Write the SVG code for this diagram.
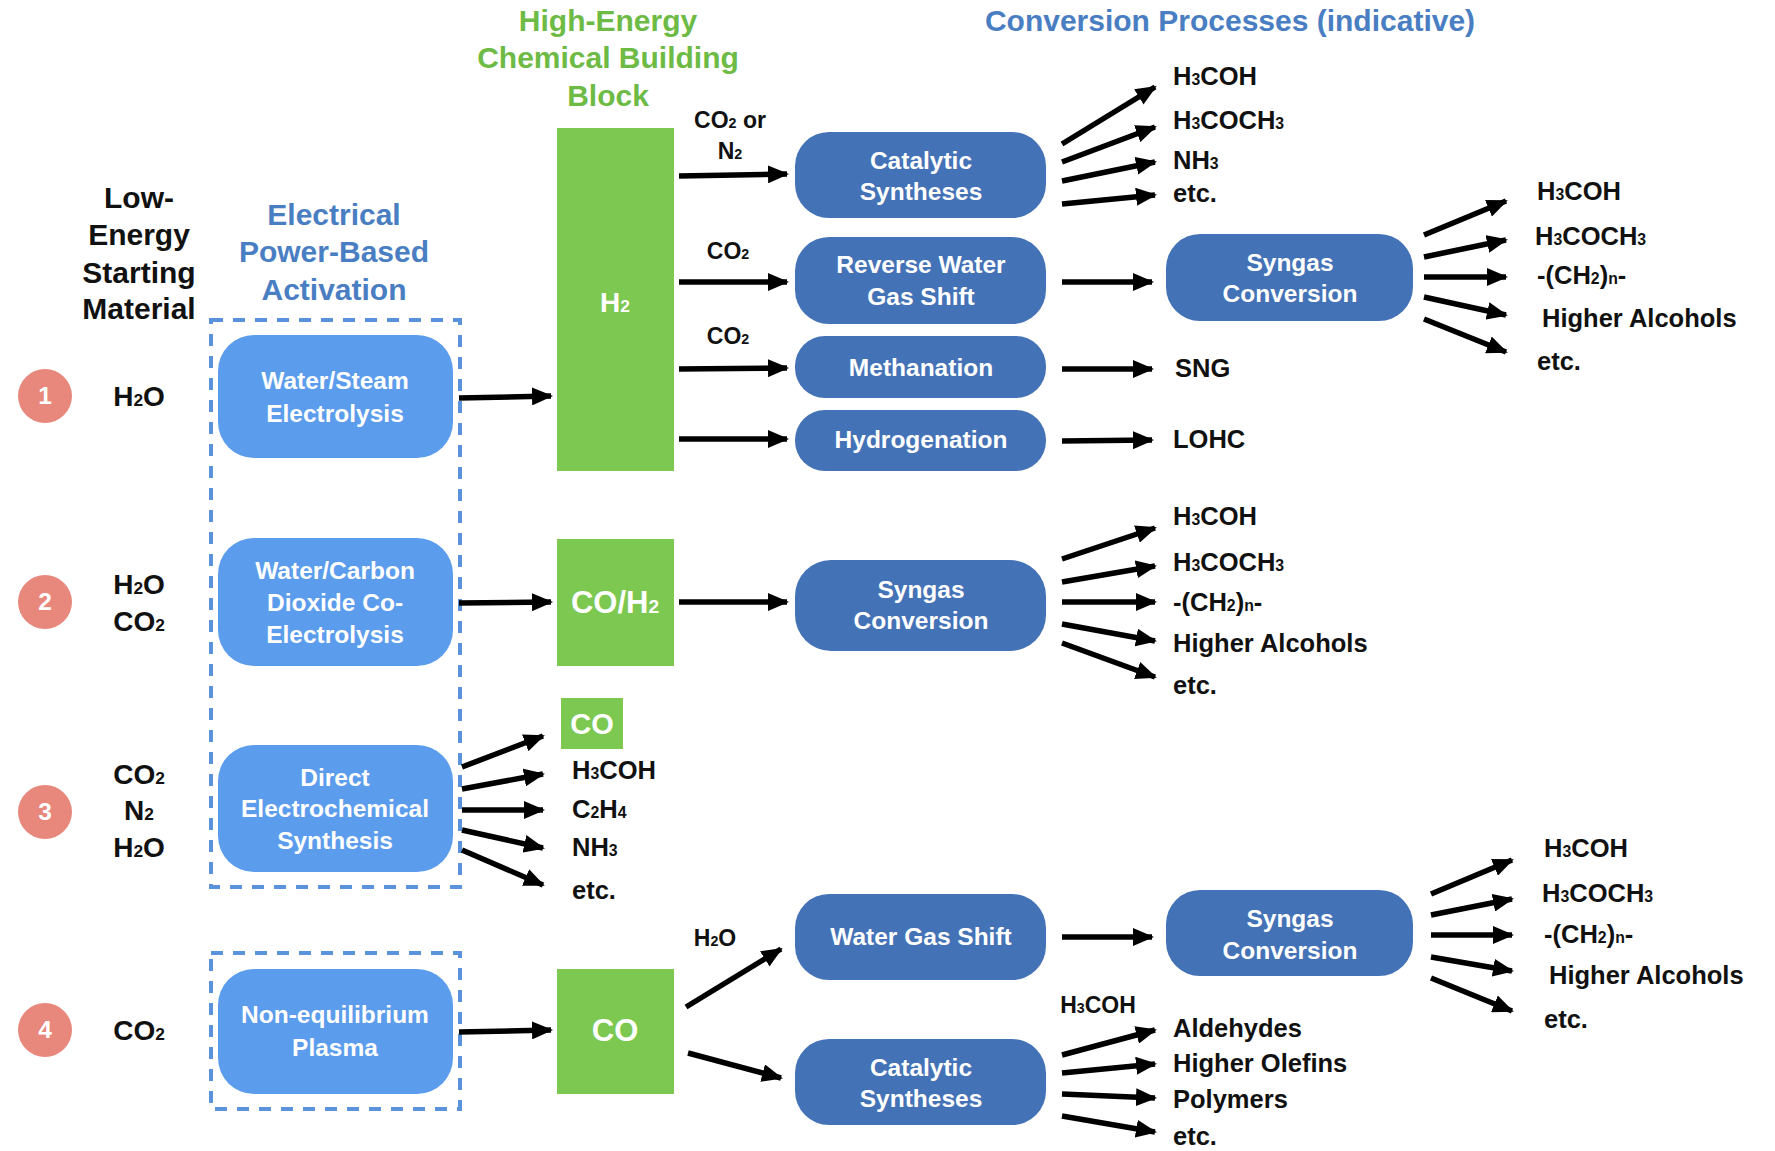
<svg xmlns="http://www.w3.org/2000/svg" width="1775" height="1151" viewBox="0 0 1775 1151">
<defs>
<marker id="ah" markerUnits="userSpaceOnUse" markerWidth="22" markerHeight="18" refX="19" refY="9" orient="auto">
<path d="M0,0 L21,9 L0,18 z" fill="#000"/>
</marker>
<style>
text{font-family:"Liberation Sans",Arial,sans-serif;font-weight:bold}
.hd{font-size:30px}
.green{fill:#6dbb45}
.blueT{fill:#4a7ec2}
.blk{fill:#111}
.mid{text-anchor:middle}
.wt{fill:#fff;font-size:24.5px;text-anchor:middle}
.lb{fill:#111;font-size:23px}
.pr{fill:#111;font-size:25.5px}
.s{font-size:0.62em}
.ln{fill:#5b9cec}
.dk{fill:#4472b6}
.gr{fill:#7dc850}
.dash{fill:none;stroke:#5a93dc;stroke-width:4;stroke-dasharray:12 10}
.num{fill:#e8877c}
.conn line{stroke:#000;stroke-width:5.5;marker-end:url(#ah)}
</style>
</defs>
<rect width="1775" height="1151" fill="#fff"/>

<g id="headers">
<text class="hd green mid" x="608" y="31">High-Energy</text>
<text class="hd green mid" x="608" y="68">Chemical Building</text>
<text class="hd green mid" x="608" y="106">Block</text>
<text class="hd blueT mid" x="1230" y="31">Conversion Processes (indicative)</text>
<text class="hd blk mid" x="139" y="208">Low-</text>
<text class="hd blk mid" x="139" y="245">Energy</text>
<text class="hd blk mid" x="139" y="283">Starting</text>
<text class="hd blk mid" x="139" y="319">Material</text>
<text class="hd blueT mid" x="334" y="225">Electrical</text>
<text class="hd blueT mid" x="334" y="262">Power-Based</text>
<text class="hd blueT mid" x="334" y="300">Activation</text>
</g>

<g id="rows">
<circle class="num" cx="45" cy="396" r="27"/><text class="wt" x="45" y="404">1</text>
<circle class="num" cx="45" cy="602" r="27"/><text class="wt" x="45" y="610">2</text>
<circle class="num" cx="45" cy="812" r="27"/><text class="wt" x="45" y="820">3</text>
<circle class="num" cx="45" cy="1030" r="27"/><text class="wt" x="45" y="1038">4</text>
<g style="font-size:28px" class="blk">
<text class="mid" x="139" y="406">H<tspan class="s">2</tspan>O</text>
<text class="mid" x="139" y="594">H<tspan class="s">2</tspan>O</text>
<text class="mid" x="139" y="631">CO<tspan class="s">2</tspan></text>
<text class="mid" x="139" y="784">CO<tspan class="s">2</tspan></text>
<text class="mid" x="139" y="820">N<tspan class="s">2</tspan></text>
<text class="mid" x="139" y="857">H<tspan class="s">2</tspan>O</text>
<text class="mid" x="139" y="1040">CO<tspan class="s">2</tspan></text>
</g>
</g>

<g id="activation-box-1"><rect class="dash" x="211" y="320" width="249" height="567"/></g>
<g id="activation-box-2"><rect class="dash" x="211" y="953" width="249" height="156"/></g>

<g id="n-electrolysis"><rect class="ln" x="218" y="335" width="235" height="123" rx="36"/>
<text class="wt" x="335" y="389">Water/Steam</text><text class="wt" x="335" y="422">Electrolysis</text></g>
<g id="n-coelectrolysis"><rect class="ln" x="218" y="538" width="235" height="128" rx="36"/>
<text class="wt" x="335" y="579">Water/Carbon</text><text class="wt" x="335" y="611">Dioxide Co-</text><text class="wt" x="335" y="643">Electrolysis</text></g>
<g id="n-direct"><rect class="ln" x="218" y="745" width="235" height="127" rx="36"/>
<text class="wt" x="335" y="786">Direct</text><text class="wt" x="335" y="817">Electrochemical</text><text class="wt" x="335" y="849">Synthesis</text></g>
<g id="n-plasma"><rect class="ln" x="218" y="969" width="235" height="125" rx="36"/>
<text class="wt" x="335" y="1023">Non-equilibrium</text><text class="wt" x="335" y="1056">Plasma</text></g>

<g id="b-h2"><rect class="gr" x="557" y="128" width="117" height="343"/>
<text class="wt" style="font-size:28px" x="615" y="312">H<tspan class="s">2</tspan></text></g>
<g id="b-coh2"><rect class="gr" x="557" y="539" width="117" height="127"/>
<text class="wt" style="font-size:31px" x="615" y="613">CO/H<tspan class="s">2</tspan></text></g>
<g id="b-co-small"><rect class="gr" x="561" y="698" width="62" height="51"/>
<text class="wt" style="font-size:29px" x="592" y="734">CO</text></g>
<g id="b-co"><rect class="gr" x="557" y="969" width="117" height="125"/>
<text class="wt" style="font-size:31px" x="615" y="1041">CO</text></g>

<g id="p-cat1"><rect class="dk" x="795" y="132" width="251" height="86" rx="34"/>
<text class="wt" x="921" y="169">Catalytic</text><text class="wt" x="921" y="200">Syntheses</text></g>
<g id="p-rwgs"><rect class="dk" x="795" y="237" width="251" height="87" rx="34"/>
<text class="wt" x="921" y="273">Reverse Water</text><text class="wt" x="921" y="305">Gas Shift</text></g>
<g id="p-meth"><rect class="dk" x="795" y="336" width="251" height="62" rx="30"/>
<text class="wt" x="921" y="376">Methanation</text></g>
<g id="p-hydro"><rect class="dk" x="795" y="410" width="251" height="61" rx="30"/>
<text class="wt" x="921" y="448">Hydrogenation</text></g>
<g id="p-syn1"><rect class="dk" x="1166" y="234" width="247" height="87" rx="34"/>
<text class="wt" x="1290" y="271">Syngas</text><text class="wt" x="1290" y="302">Conversion</text></g>
<g id="p-syn2"><rect class="dk" x="795" y="560" width="251" height="91" rx="36"/>
<text class="wt" x="921" y="598">Syngas</text><text class="wt" x="921" y="629">Conversion</text></g>
<g id="p-wgs"><rect class="dk" x="795" y="894" width="251" height="86" rx="34"/>
<text class="wt" x="921" y="945">Water Gas Shift</text></g>
<g id="p-syn3"><rect class="dk" x="1166" y="890" width="247" height="86" rx="34"/>
<text class="wt" x="1290" y="927">Syngas</text><text class="wt" x="1290" y="959">Conversion</text></g>
<g id="p-cat2"><rect class="dk" x="795" y="1039" width="251" height="86" rx="34"/>
<text class="wt" x="921" y="1076">Catalytic</text><text class="wt" x="921" y="1107">Syntheses</text></g>

<g id="connector-labels">
<text class="lb mid" x="730" y="128">CO<tspan class="s">2</tspan> or</text>
<text class="lb mid" x="730" y="159">N<tspan class="s">2</tspan></text>
<text class="lb mid" x="728" y="259">CO<tspan class="s">2</tspan></text>
<text class="lb mid" x="728" y="344">CO<tspan class="s">2</tspan></text>
<text class="lb mid" x="715" y="946">H<tspan class="s">2</tspan>O</text>
<text class="lb mid" x="1098" y="1013">H<tspan class="s">3</tspan>COH</text>
</g>

<g id="products">
<text class="pr" x="1173" y="85">H<tspan class="s">3</tspan>COH</text>
<text class="pr" x="1173" y="129">H<tspan class="s">3</tspan>COCH<tspan class="s">3</tspan></text>
<text class="pr" x="1173" y="169">NH<tspan class="s">3</tspan></text>
<text class="pr" x="1173" y="202">etc.</text>
<text class="pr" x="1537" y="200">H<tspan class="s">3</tspan>COH</text>
<text class="pr" x="1535" y="245">H<tspan class="s">3</tspan>COCH<tspan class="s">3</tspan></text>
<text class="pr" x="1537" y="284">-(CH<tspan class="s">2</tspan>)<tspan class="s">n</tspan>-</text>
<text class="pr" x="1542" y="327">Higher Alcohols</text>
<text class="pr" x="1537" y="370">etc.</text>
<text class="pr" x="1175" y="377">SNG</text>
<text class="pr" x="1173" y="448">LOHC</text>
<text class="pr" x="1173" y="525">H<tspan class="s">3</tspan>COH</text>
<text class="pr" x="1173" y="571">H<tspan class="s">3</tspan>COCH<tspan class="s">3</tspan></text>
<text class="pr" x="1173" y="611">-(CH<tspan class="s">2</tspan>)<tspan class="s">n</tspan>-</text>
<text class="pr" x="1173" y="652">Higher Alcohols</text>
<text class="pr" x="1173" y="694">etc.</text>
<text class="pr" x="572" y="779">H<tspan class="s">3</tspan>COH</text>
<text class="pr" x="572" y="818">C<tspan class="s">2</tspan>H<tspan class="s">4</tspan></text>
<text class="pr" x="572" y="856">NH<tspan class="s">3</tspan></text>
<text class="pr" x="572" y="899">etc.</text>
<text class="pr" x="1544" y="857">H<tspan class="s">3</tspan>COH</text>
<text class="pr" x="1542" y="902">H<tspan class="s">3</tspan>COCH<tspan class="s">3</tspan></text>
<text class="pr" x="1544" y="943">-(CH<tspan class="s">2</tspan>)<tspan class="s">n</tspan>-</text>
<text class="pr" x="1549" y="984">Higher Alcohols</text>
<text class="pr" x="1544" y="1028">etc.</text>
<text class="pr" x="1173" y="1037">Aldehydes</text>
<text class="pr" x="1173" y="1072">Higher Olefins</text>
<text class="pr" x="1173" y="1108">Polymers</text>
<text class="pr" x="1173" y="1145">etc.</text>
</g>

<g id="connectors" class="conn">
<line x1="459" y1="398" x2="551" y2="396"/>
<line x1="459" y1="603" x2="551" y2="602"/>
<line x1="459" y1="1032" x2="551" y2="1030"/>
<line x1="679" y1="176" x2="787" y2="174"/>
<line x1="679" y1="282" x2="787" y2="282"/>
<line x1="679" y1="369" x2="787" y2="368"/>
<line x1="679" y1="439" x2="787" y2="439"/>
<line x1="679" y1="602" x2="787" y2="602"/>
<line x1="686" y1="1007" x2="781" y2="949"/>
<line x1="688" y1="1053" x2="781" y2="1078"/>
<line x1="1062" y1="144" x2="1155" y2="87"/>
<line x1="1062" y1="162" x2="1155" y2="127"/>
<line x1="1062" y1="181" x2="1155" y2="162"/>
<line x1="1062" y1="204" x2="1155" y2="195"/>
<line x1="1062" y1="282" x2="1152" y2="282"/>
<line x1="1062" y1="369" x2="1152" y2="369"/>
<line x1="1062" y1="441" x2="1152" y2="440"/>
<line x1="1424" y1="235" x2="1506" y2="201"/>
<line x1="1424" y1="257" x2="1506" y2="240"/>
<line x1="1424" y1="277" x2="1506" y2="277"/>
<line x1="1424" y1="297" x2="1506" y2="315"/>
<line x1="1424" y1="319" x2="1506" y2="352"/>
<line x1="1062" y1="559" x2="1155" y2="528"/>
<line x1="1062" y1="582" x2="1155" y2="566"/>
<line x1="1062" y1="602" x2="1155" y2="602"/>
<line x1="1062" y1="624" x2="1155" y2="641"/>
<line x1="1062" y1="643" x2="1155" y2="677"/>
<line x1="462" y1="767" x2="543" y2="736"/>
<line x1="462" y1="789" x2="543" y2="774"/>
<line x1="462" y1="810" x2="543" y2="810"/>
<line x1="462" y1="830" x2="543" y2="848"/>
<line x1="462" y1="850" x2="543" y2="885"/>
<line x1="1062" y1="937" x2="1152" y2="937"/>
<line x1="1431" y1="894" x2="1512" y2="860"/>
<line x1="1431" y1="915" x2="1512" y2="899"/>
<line x1="1431" y1="935" x2="1512" y2="935"/>
<line x1="1431" y1="957" x2="1512" y2="971"/>
<line x1="1431" y1="978" x2="1512" y2="1011"/>
<line x1="1062" y1="1055" x2="1155" y2="1030"/>
<line x1="1062" y1="1073" x2="1155" y2="1064"/>
<line x1="1062" y1="1094" x2="1155" y2="1098"/>
<line x1="1062" y1="1116" x2="1155" y2="1132"/>
</g>
</svg>
